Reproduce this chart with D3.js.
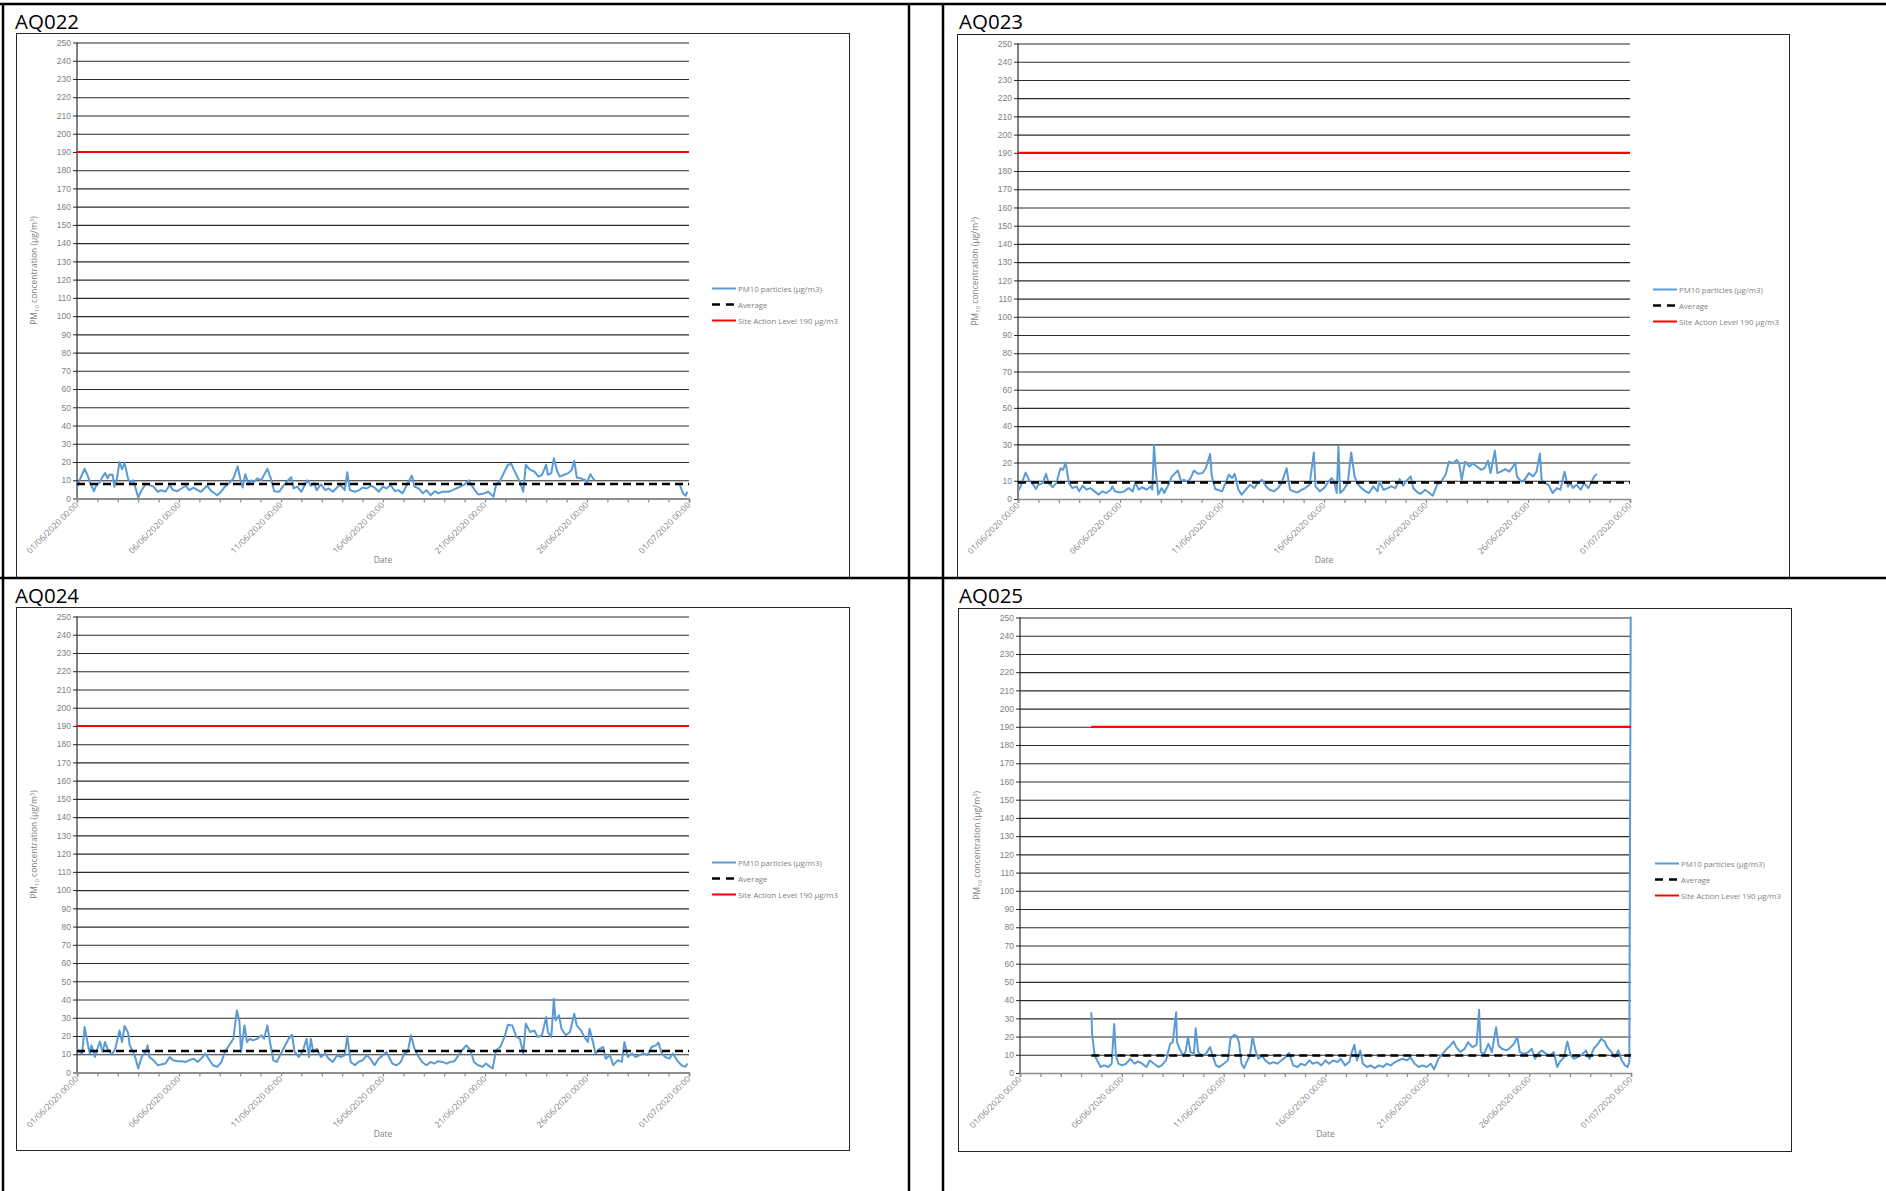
<!DOCTYPE html>
<html lang="en">
<head>
<meta charset="UTF-8">
<title>PM10 monitoring June 2020</title>
<script src="https://d3js.org/d3.v7.min.js"></script>
<style>
    body { margin: 0; background: #fff; }
    svg { display: block; font-family: "Open Sans", "Noto Sans", sans-serif; }
    .tick-label { font-size: 8.5px; fill: #7f7f7f; }
    .axis-title { font-size: 8.5px; fill: #7f7f7f; }
    .legend-text { font-size: 7.8px; fill: #7f7f7f; }
    .panel-title { font-size: 20.5px; fill: #000; }
</style>
</head>
<body>
<svg id="chart"></svg>
<script>
// Readings as [hours since 01/06/2020 00:00, PM10 µg/m3]; null = no data
var aq022 = [[0,6],[3,10],[9,16.3],[13,12],[15,9],[20,4],[22,6.5],[27,9],[29,11],[33,14],[36,11],[38,13],[42,13],[44,6.5],[47,11],[50,20],[53,16],[56,19.5],[60,11],[62,9],[66,10],[69,5.5],[72,0.5],[76,4.5],[81,8],[85,7.5],[90,6.5],[95,3.7],[99,4.5],[104,3.7],[109,7.4],[113,4.6],[118,4],[123,5.5],[128,7],[132,4.6],[137,6],[142,4.6],[146,3.7],[153,7],[158,4],[165,1.8],[170,4],[174,6.5],[179,8.3],[184,11],[189,17.6],[192,11],[195,6],[198,13.3],[202,7.8],[205,10],[208,9],[212,11],[217,10],[219,12],[224,16.3],[228,11],[232,4],[238,3.7],[242,6.5],[247,9.3],[252,11.7],[255,5.5],[259,6.5],[264,3.7],[268,7.4],[271,10],[275,7],[279,8.3],[282,4.6],[287,7.8],[292,4.6],[296,5.5],[301,3.7],[306,6],[310,7.4],[315,4.6],[318,14.4],[321,4.6],[327,3.7],[332,4.6],[336,6],[341,5.5],[346,7],[350,6],[355,3.7],[360,6.5],[364,5.5],[369,7.4],[374,4],[378,4.6],[383,2.8],[388,7.4],[394,12.6],[397,6.5],[402,5.5],[407,2.8],[411,4.6],[416,1.8],[421,4],[425,2.8],[430,3.7],[437,3.7],[442,4.6],[446,5.5],[451,6.5],[456,7.8],[461,10],[464,7.4],[468,4.6],[472,2.2],[479,2.8],[484,3.7],[490,0.9],[493,7.4],[498,10],[503,14.8],[507,18.5],[511,19],[514,15.7],[519,11],[521,9.3],[525,3.7],[528,18.5],[533,15.7],[538,14.8],[543,12],[547,13],[552,18.5],[554,13],[558,13.9],[561,22],[565,14.8],[568,12],[573,13],[578,13.9],[582,15.7],[585,20.7],[588,11.5],[593,11],[598,10],[600,8.9],[604,13.3],[607,11],[609,10],[650,null],[709,7.8],[713,2.8],[716,1.5],[718,3.7]];

var aq023 = [[0,4.2],[3,6.9],[9,14.5],[13,10.5],[17,8.7],[21,5.5],[24,7.8],[29,8.7],[33,13.8],[36,8.7],[41,6.5],[45,8.7],[50,16.9],[53,16],[56,20],[60,8.7],[64,6],[69,6.9],[72,4.2],[76,7.3],[81,5.1],[85,6],[90,4.2],[95,2.4],[99,4.2],[104,3.3],[109,5.1],[111,6.9],[114,4.2],[120,3.6],[125,4.2],[130,6],[135,4.2],[138,9.1],[142,5.1],[146,6.5],[151,5.1],[156,6.9],[158,5.1],[160,29.6],[162,16],[165,2.4],[169,6],[172,3.3],[177,7.8],[181,12.4],[185,14.2],[188,15.6],[192,9.6],[195,10.5],[200,9.6],[203,11.5],[207,15.6],[212,13.8],[217,14.2],[221,16.9],[226,24.7],[228,12.4],[232,5.5],[235,5.1],[240,4.2],[245,9.6],[248,13.3],[252,11.5],[255,13.8],[259,5.5],[263,2.4],[268,5.1],[273,7.8],[278,6],[282,8.7],[287,10.5],[292,6.9],[296,5.1],[301,4.2],[306,6],[310,8.7],[316,16.9],[320,5.1],[324,4.2],[329,3.6],[334,5.1],[338,6],[343,7.8],[348,25.5],[350,6.9],[355,4.2],[360,6],[364,8.7],[369,11.5],[372,9.6],[375,3.3],[377,28.7],[379,3.3],[383,5.1],[388,8.7],[392,25.5],[396,12.4],[399,8.7],[404,6],[409,4.2],[413,3.3],[418,6.9],[423,4.2],[425,9.6],[430,5.1],[435,6],[439,6.9],[444,6],[449,10.9],[453,7.3],[458,10.5],[462,12.4],[465,6],[470,3.6],[474,2.9],[479,5.1],[484,3.3],[488,1.8],[493,7.8],[498,9.6],[503,13.3],[507,20.5],[512,19.6],[516,21.5],[519,19.6],[522,10.5],[526,20.5],[531,17.8],[535,19.6],[540,17.8],[545,16],[549,16.9],[553,21],[556,14.2],[561,26.5],[564,14.2],[568,15],[573,16.4],[578,15],[582,17.5],[585,20],[587,12.4],[592,9.6],[596,10.5],[601,14.2],[606,12.4],[610,15],[614,25],[616,10.5],[620,8.7],[624,7.8],[629,3.3],[634,6],[638,5.1],[643,15],[647,6.9],[650,8.7],[653,6],[657,7.8],[662,5.1],[666,8.7],[671,6],[675,9.6],[678,12.4],[681,13.8]];

var aq024 = [[0,13],[2,11.3],[6,10.4],[9,24.9],[13,14.9],[15,10.4],[17,14.9],[21,8.5],[24,13],[27,17],[30,11.3],[33,16.7],[36,13],[41,9.8],[45,13],[50,23],[53,16.7],[56,25.5],[60,22],[62,14.9],[66,11.3],[69,7.6],[72,2.2],[76,8.5],[81,11.3],[83,14.9],[85,8.5],[90,6.7],[95,4],[99,4.4],[104,4.9],[109,8.5],[113,6.7],[118,6.2],[123,6.2],[128,5.8],[132,6.7],[137,7.6],[142,5.8],[146,7.6],[151,10.4],[156,6.7],[160,4],[165,3.1],[170,5.8],[174,11.3],[179,14.9],[184,18.5],[188,34],[191,28.5],[193,11.3],[197,25.8],[200,16.7],[203,18.5],[207,17.6],[212,18.5],[217,20.4],[220,18.5],[224,25.8],[227,16.7],[231,6.7],[235,5.8],[240,10.4],[245,14.9],[249,18.5],[253,20.7],[256,11.3],[261,8.5],[266,12.2],[270,18.5],[273,8.5],[275,18.5],[278,11.3],[282,13],[287,8.5],[292,10.4],[296,7.6],[301,5.8],[306,9.5],[310,8.5],[315,9.5],[318,20],[322,5.8],[327,4],[331,5.8],[336,6.7],[341,9.5],[345,7.6],[350,4],[355,7.6],[360,9.5],[364,11.3],[367,8.5],[371,4.9],[376,4],[381,5.8],[385,10.4],[389,11.3],[393,20.4],[397,13],[402,8.5],[406,5.8],[411,4],[416,5.8],[420,4.9],[425,6.2],[430,5.8],[435,4.9],[439,5.8],[444,6.2],[449,9.5],[453,12.2],[458,14.9],[463,12.2],[467,5.8],[472,4],[477,3.1],[481,4.9],[486,3.1],[489,2.2],[493,12.2],[498,14],[503,19.5],[507,26.2],[512,25.8],[517,19.5],[521,18.5],[525,10.4],[528,26.7],[533,22.2],[538,23],[542,19.5],[547,20.4],[552,30.4],[554,22.2],[558,19.5],[561,40.4],[563,28.5],[567,31.3],[570,24],[575,20.4],[580,22.2],[585,32.2],[588,25.8],[593,23],[597,19.5],[601,16.7],[603,24],[607,16.7],[610,10.4],[615,13],[619,14],[622,7.6],[627,9.5],[631,4],[636,6.7],[641,5.8],[644,16.7],[648,8.5],[653,10.4],[657,8.5],[662,9.5],[667,10.4],[671,9.5],[676,14],[681,14.9],[684,16.4],[688,10.4],[692,8.5],[697,7.6],[701,10.4],[706,6.7],[711,4],[716,3.1],[718,4.9]];

var aq025 = [[84,33.3],[85,21.5],[88,9.6],[91,6.9],[95,3.3],[99,4.2],[104,3.3],[108,5.1],[111,26.9],[113,9.6],[116,5.1],[120,4.2],[125,5.1],[130,7.8],[135,5.1],[139,6.4],[144,5.1],[149,3.3],[153,6.9],[158,5.1],[163,3.3],[167,4.2],[172,6.9],[177,16],[180,16.9],[184,33.3],[185,16.9],[188,13.3],[192,9.6],[195,11.5],[198,19.6],[201,11.5],[205,10.5],[207,24.5],[210,11.5],[214,9.6],[219,10.5],[224,14.2],[227,9.6],[231,4.2],[235,3.3],[240,5.1],[245,6.9],[248,18.7],[252,20.9],[255,20.5],[258,16.9],[261,5.1],[264,2.7],[268,6.9],[271,9.6],[274,19.6],[278,11.5],[281,7.8],[285,9.6],[289,6.9],[294,5.1],[299,6],[303,5.1],[308,6.9],[313,8.7],[317,11.1],[322,4.2],[327,3.3],[331,5.1],[336,4.2],[341,6.9],[345,5.1],[350,6],[355,4.2],[360,6.9],[364,5.1],[369,6.9],[374,6],[378,7.8],[383,4.2],[388,6],[391,11.5],[394,15.5],[397,6.9],[401,12.4],[404,5.1],[409,3.3],[413,4.2],[418,2.7],[423,4.2],[428,3.3],[432,5.1],[437,4.2],[442,6],[446,6.9],[451,7.8],[456,6.9],[460,8.7],[465,5.1],[470,3.3],[474,4.2],[479,3.3],[484,5.1],[488,2],[493,7.8],[498,10.5],[503,13.3],[507,15],[511,17.3],[514,14.2],[519,11.5],[524,13.3],[528,16.9],[533,14.2],[538,15.5],[541,34.7],[543,11.5],[547,10.5],[552,16],[556,11.5],[561,25.1],[564,15],[568,13.3],[573,12.4],[577,13.6],[582,16],[586,19.6],[589,11.5],[594,10.5],[599,11.5],[603,13.3],[607,7.8],[610,10.5],[615,12.4],[620,10.5],[624,9.6],[629,11.5],[633,3.3],[636,6],[641,8.7],[645,17.3],[649,9.6],[653,7.8],[657,8.7],[662,10],[667,12.4],[671,7.8],[676,13.3],[681,16],[685,18.7],[689,17.3],[692,14.2],[697,11.5],[701,8.7],[705,12.4],[709,6.9],[713,4.2],[716,3.3],[718,6],[720,300]];

var stations = ["AQ022", "AQ023", "AQ024", "AQ025"];
var readings = [aq022, aq023, aq024, aq025];
var averages = [8, 9.1, 11.8, 9.6];
var actionLevel = 190;
var legendLabels = ["PM10 particles (µg/m3)", "Average", "Site Action Level 190 µg/m3"];

// Layout of the four panels (page pixels)
var panels = [
    {box: [16, 33, 849, 577],   plot: [77, 42.5, 689, 498.5],    title: [15, 29]},
    {box: [957, 34, 1789, 577], plot: [1018, 43.5, 1630, 499],   title: [959, 29]},
    {box: [16, 607, 849, 1150], plot: [77, 616.5, 689, 1072.5],  title: [15, 603]},
    {box: [958, 608, 1791, 1151], plot: [1020, 617.5, 1631, 1073], title: [959, 603]}
];

var W = 1886, H = 1191;
var svg = d3.select("#chart").attr("width", W).attr("height", H);

var t0 = Date.UTC(2020, 5, 1);
var toDate = function(h) { return new Date(t0 + h * 3600000); };
var fmt = d3.utcFormat("%d/%m/%Y %H:%M");

panels.forEach(function(p, i) {
    var data = readings[i];
    var x0 = p.plot[0], y0 = p.plot[1], pw = p.plot[2] - p.plot[0], ph = p.plot[3] - p.plot[1];

    var xs = d3.scaleUtc().domain([toDate(0), toDate(720)]).range([0, pw]);
    var ys = d3.scaleLinear().domain([0, 250]).range([ph, 0]);

    // chart border
    svg.append("rect")
        .attr("x", p.box[0] + 0.5).attr("y", p.box[1] + 0.5)
        .attr("width", p.box[2] - p.box[0]).attr("height", p.box[3] - p.box[1])
        .attr("fill", "none").attr("stroke", "#262626").attr("stroke-width", 1);

    svg.append("text").attr("class", "panel-title")
        .attr("x", p.title[0]).attr("y", p.title[1])
        .text(stations[i]);

    var g = svg.append("g").attr("transform", "translate(" + x0 + "," + y0 + ")");

    g.append("clipPath").attr("id", "clip" + i)
        .append("rect").attr("x", -2).attr("y", -1).attr("width", pw + 4).attr("height", ph + 1);

    // horizontal gridlines + y axis
    var yAxis = d3.axisLeft(ys).tickValues(d3.range(0, 251, 10)).tickSize(-pw).tickPadding(6);
    var ya = g.append("g").call(yAxis);
    ya.select(".domain").remove();
    ya.selectAll(".tick line").attr("stroke", "#2b2b2b").attr("stroke-width", 1.1);
    ya.selectAll(".tick").append("line").attr("x1", -4).attr("x2", 0).attr("stroke", "#2b2b2b");
    ya.selectAll(".tick text").attr("class", "tick-label").attr("font-size", null).attr("font-family", null)
        .attr("fill", null);
    g.append("line").attr("x1", 0).attr("x2", 0).attr("y1", 0).attr("y2", ph)
        .attr("stroke", "#1a1a1a").attr("stroke-width", 1.1);

    // x axis: daily ticks, labels every 5 days
    var xa = g.append("g").attr("transform", "translate(0," + ph + ")")
        .call(d3.axisBottom(xs).ticks(d3.utcDay.every(1)).tickSize(4).tickFormat(""));
    xa.select(".domain").attr("stroke", "#8c8c8c").attr("stroke-width", 1.6);
    xa.selectAll(".tick line").attr("stroke", "#8c8c8c").attr("stroke-width", 1.2);

    var labelDays = d3.range(0, 31, 5);
    g.selectAll(".xlab").data(labelDays).enter().append("text")
        .attr("class", "tick-label")
        .attr("text-anchor", "end")
        .attr("transform", function(d) {
            return "translate(" + (xs(toDate(d * 24)) + 2) + "," + (ph + 7) + ") rotate(-45)";
        })
        .text(function(d) { return fmt(toDate(d * 24)); });

    g.append("text").attr("class", "axis-title")
        .attr("x", pw / 2).attr("y", ph + 64).attr("text-anchor", "middle")
        .text("Date");

    var yt = g.append("text").attr("class", "axis-title")
        .attr("text-anchor", "middle")
        .attr("transform", "translate(" + (-40) + "," + (ph / 2) + ") rotate(-90)");
    yt.append("tspan").text("PM");
    yt.append("tspan").attr("font-size", "6px").attr("dy", 2).text("10");
    yt.append("tspan").attr("dy", -2).text(" concentration (µg/m");
    yt.append("tspan").attr("font-size", "6px").attr("dy", -3).text("3");
    yt.append("tspan").attr("dy", 3).text(")");

    var first = data[0][0];
    var span = [toDate(first), toDate(720)];

    var plot = g.append("g").attr("clip-path", "url(#clip" + i + ")");

    var line = d3.line()
        .defined(function(d) { return d[1] !== null; })
        .x(function(d) { return xs(toDate(d[0])); })
        .y(function(d) { return ys(d[1]); });

    plot.append("path").datum(data)
        .attr("d", line)
        .attr("fill", "none").attr("stroke", "#5b9bd5").attr("stroke-width", 2)
        .attr("stroke-linejoin", "round");

    plot.append("line")
        .attr("x1", xs(span[0])).attr("x2", xs(span[1]))
        .attr("y1", ys(averages[i])).attr("y2", ys(averages[i]))
        .attr("stroke", "#000").attr("stroke-width", 2.5).attr("stroke-dasharray", "8,5");

    plot.append("line")
        .attr("x1", xs(span[0])).attr("x2", xs(span[1]))
        .attr("y1", ys(actionLevel)).attr("y2", ys(actionLevel))
        .attr("stroke", "#ff0000").attr("stroke-width", 2);

    // legend
    var lg = svg.append("g").attr("transform", "translate(" + (x0 + 635) + "," + (y0 + 246) + ")");
    var styles = [
        {stroke: "#5b9bd5", dash: null, w: 2},
        {stroke: "#000", dash: "8,6", w: 2.5},
        {stroke: "#ff0000", dash: null, w: 2}
    ];
    legendLabels.forEach(function(lab, k) {
        lg.append("line").attr("x1", 0).attr("x2", 24).attr("y1", k * 16).attr("y2", k * 16)
            .attr("stroke", styles[k].stroke).attr("stroke-width", styles[k].w)
            .attr("stroke-dasharray", styles[k].dash);
        lg.append("text").attr("class", "legend-text")
            .attr("x", 26).attr("y", k * 16 + 3).text(lab);
    });
});

// outer frame lines
var frame = [
    [0, 4, W, 4],
    [3, 4, 3, H],
    [909, 4, 909, H],
    [943, 4, 943, H],
    [0, 578, W, 578]
];
svg.selectAll(".frame").data(frame).enter().append("line")
    .attr("x1", function(d) { return d[0]; }).attr("y1", function(d) { return d[1]; })
    .attr("x2", function(d) { return d[2]; }).attr("y2", function(d) { return d[3]; })
    .attr("stroke", "#000").attr("stroke-width", 2.5);
</script>
</body>
</html>
